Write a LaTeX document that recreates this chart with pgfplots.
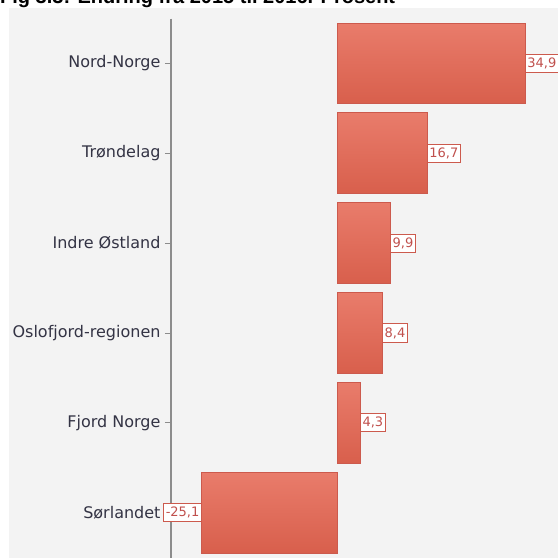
\documentclass[border=0pt]{standalone}
\usepackage{pgfplots}
\pgfplotsset{compat=1.18}
\usepackage{fontspec}
\setmainfont{DejaVu Sans}
\newfontfamily\titlefont{Liberation Sans}
\definecolor{bgc}{HTML}{F3F3F3}
\definecolor{bartop}{HTML}{E97C6B}
\definecolor{barbot}{HTML}{D85F4C}
\definecolor{barline}{HTML}{CC5A4D}
\definecolor{lblc}{HTML}{C0504D}
\definecolor{txtc}{HTML}{333344}
\definecolor{axc}{HTML}{8C8C8C}
\begin{document}
\begin{tikzpicture}[x=1pt,y=1pt]
\useasboundingbox (0,0) rectangle (558,-558);
\fill[bgc] (9,-8) rectangle (560,-560);
\node[anchor=base west,inner sep=0pt,font=\titlefont\bfseries\fontsize{20}{23}\selectfont] at (0,-3.5) {Fig 3.3: Endring fra 2015 til 2016. Prosent};
\begin{axis}[
  at={(171pt,-557.5pt)}, anchor=south west,
  scale only axis, width=387pt, height=539pt,
  xmin=-30.82, xmax=41.03,
  ymin=-0.5, ymax=5.5, y dir=reverse,
  axis x line=none,
  axis y line*=left,
  y axis line style={draw=axc, line width=1.3pt, -},
  ytick={0,1,2,3,4,5},
  yticklabels={Nord-Norge,Trøndelag,Indre Østland,Oslofjord-regionen,Fjord Norge,Sørlandet},
  yticklabel style={font=\fontsize{16}{18}\selectfont, text=txtc, xshift=-1pt},
  major tick length=6pt,
  tick align=outside,
  tick style={draw=axc, line width=0.8pt},
  xbar, bar width=0.9, bar shift=0pt,
  clip=false,
  nodes near coords,
  nodes near coords align={horizontal},
  every node near coord/.append style={font=\fontsize{13}{15}\selectfont, text=lblc, fill=white, draw=barline, line width=0.8pt, inner xsep=2pt, inner ysep=3.5pt, /pgf/number format/.cd, fixed, fixed zerofill, precision=1, use comma, assume math mode=true},
  mybar/.style={draw=barline, line width=0.8pt, top color=bartop, bottom color=barbot},
]
\addplot[mybar] coordinates {(34.9,0)};
\addplot[mybar] coordinates {(16.7,1)};
\addplot[mybar] coordinates {(9.9,2)};
\addplot[mybar] coordinates {(8.4,3)};
\addplot[mybar] coordinates {(4.3,4)};
\addplot[mybar] coordinates {(-25.1,5)};
\end{axis}
\end{tikzpicture}
\end{document}
